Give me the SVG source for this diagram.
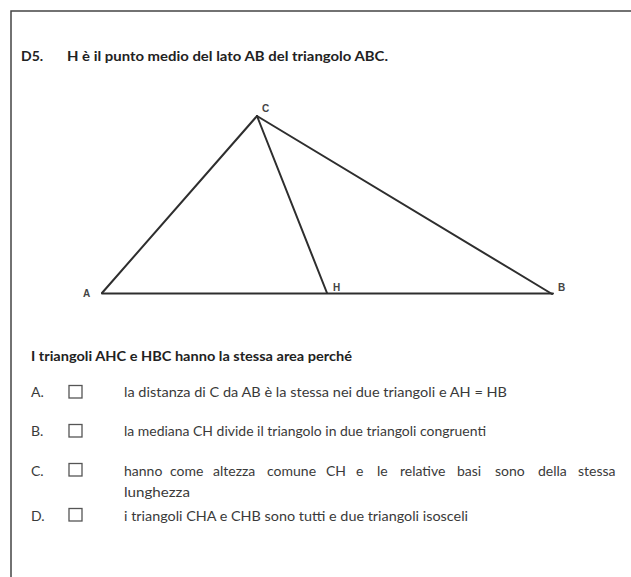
<svg xmlns="http://www.w3.org/2000/svg" width="631" height="577" viewBox="0 0 631 577">
<style>
.t{font-family:Lato,"Open Sans","Liberation Sans",sans-serif;font-size:14px;fill:#3a3a3a}
.b{font-weight:bold;fill:#222}
.lbl{font-family:"Liberation Sans",Arial,sans-serif;font-size:10px;font-weight:bold;fill:#444}
.box{fill:none;stroke:#555;stroke-width:1.3}
.edge{stroke:#2e2e2e;stroke-width:2;stroke-linecap:round;fill:none}
</style>
<rect width="631" height="577" fill="#fff"/>
<path d="M11,577 V11 H631" fill="none" stroke="#444" stroke-width="1.5"/>
<g id="title">
<text class="t b" x="21" y="61">D5.</text>
<text class="t b" x="67" y="61" textLength="321" lengthAdjust="spacingAndGlyphs">H è il punto medio del lato AB del triangolo ABC.</text>
</g>
<g id="connectors">
<line class="edge" x1="102" y1="293.5" x2="553" y2="293.5" stroke="#555" stroke-width="2.5"/>
<line class="edge" x1="102" y1="293" x2="257" y2="116"/>
<line class="edge" x1="257" y1="116" x2="327" y2="293"/>
<line class="edge" x1="257" y1="116" x2="552" y2="294"/>
</g>
<g id="C"><text class="lbl" x="262" y="112">C</text></g>
<g id="A"><text class="lbl" x="83" y="297">A</text></g>
<g id="H"><text class="lbl" x="333" y="291">H</text></g>
<g id="B"><text class="lbl" x="558" y="291">B</text></g>
<g id="question">
<text class="t b" x="31" y="361" textLength="321" lengthAdjust="spacingAndGlyphs">I triangoli AHC e HBC hanno la stessa area perché</text>
</g>
<g id="optA">
<text class="t" x="31" y="397">A.</text>
<rect class="box" x="69" y="385.5" width="13" height="12.5"/>
<text class="t" x="124" y="397" textLength="383" lengthAdjust="spacingAndGlyphs">la distanza di C da AB è la stessa nei due triangoli e AH = HB</text>
</g>
<g id="optB">
<text class="t" x="31" y="436">B.</text>
<rect class="box" x="69" y="424.5" width="13" height="12.5"/>
<text class="t" x="124" y="436" textLength="362" lengthAdjust="spacingAndGlyphs">la mediana CH divide il triangolo in due triangoli congruenti</text>
</g>
<g id="optC">
<text class="t" x="31" y="475.5">C.</text>
<rect class="box" x="69" y="463.5" width="13" height="12.5"/>
<text class="t" y="475.5"><tspan x="124">hanno</tspan> <tspan x="170">come</tspan> <tspan x="213">altezza</tspan> <tspan x="267">comune</tspan> <tspan x="326">CH</tspan> <tspan x="356">e</tspan> <tspan x="377">le</tspan> <tspan x="400">relative</tspan> <tspan x="457">basi</tspan> <tspan x="495">sono</tspan> <tspan x="538">della</tspan> <tspan x="578">stessa</tspan></text>
<text class="t" x="124" y="497" textLength="66" lengthAdjust="spacingAndGlyphs">lunghezza</text>
</g>
<g id="optD">
<text class="t" x="31" y="521">D.</text>
<rect class="box" x="69" y="508.5" width="13" height="12.5"/>
<text class="t" x="124" y="521" textLength="344" lengthAdjust="spacingAndGlyphs">i triangoli CHA e CHB sono tutti e due triangoli isosceli</text>
</g>
</svg>
